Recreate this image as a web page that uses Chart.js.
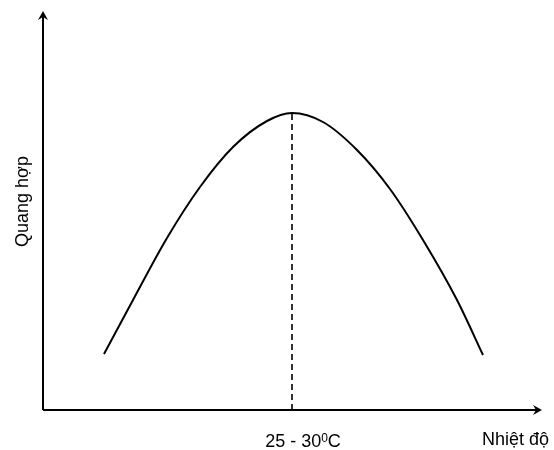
<!DOCTYPE html>
<html>
<head>
<meta charset="utf-8">
<script src="https://cdn.jsdelivr.net/npm/chart.js@4/dist/chart.umd.min.js"></script>
<style>
html,body{margin:0;padding:0;background:#fff;}
#c{display:block;}
</style>
</head>
<body>
<canvas id="c" width="554" height="450"></canvas>
<script>
// Read-off values (arbitrary units)
const temperature = [61, 90, 124, 157, 190, 224, 249, 280, 314, 347, 380, 414, 440];
const photosynthesis = [56, 110, 172, 223, 263, 289, 297, 288, 260, 221, 170, 110, 55];
const optimumX = [249, 249];
const optimumY = [0, 297];
const xLabel = "Nhiệt độ";
const yLabel = "Quang hợp";
const optimumLabel = ["25 - 30", "0", "C"];

const curve = temperature.map((t, i) => ({x: t, y: photosynthesis[i]}));
const dashed = optimumX.map((t, i) => ({x: t, y: optimumY[i]}));

const FONT = '"Liberation Sans", Arial, sans-serif';

const axesPlugin = {
  id: 'axesArrows',
  afterDraw(chart) {
    const ctx = chart.ctx;
    const a = chart.chartArea;
    const xs = chart.scales.x;
    ctx.save();
    ctx.strokeStyle = '#000';
    ctx.fillStyle = '#000';
    ctx.lineWidth = 2;
    ctx.beginPath();
    ctx.moveTo(a.left, a.bottom);
    ctx.lineTo(a.left, a.top + 4);
    ctx.stroke();
    ctx.beginPath();
    ctx.moveTo(a.left, a.bottom);
    ctx.lineTo(a.right - 4, a.bottom);
    ctx.stroke();
    function arrowUp(x, y) {
      ctx.beginPath();
      ctx.moveTo(x, y);
      ctx.lineTo(x + 5, y + 9);
      ctx.lineTo(x, y + 6);
      ctx.lineTo(x - 5, y + 9);
      ctx.closePath();
      ctx.fill();
    }
    function arrowRight(x, y) {
      ctx.beginPath();
      ctx.moveTo(x, y);
      ctx.lineTo(x - 9, y - 5);
      ctx.lineTo(x - 6, y);
      ctx.lineTo(x - 9, y + 5);
      ctx.closePath();
      ctx.fill();
    }
    arrowUp(a.left, a.top);
    arrowRight(a.right, a.bottom);

    ctx.font = '18px ' + FONT;
    ctx.textBaseline = 'alphabetic';
    ctx.textAlign = 'left';
    ctx.fillText(xLabel, a.right - 60, a.bottom + 35);
    ctx.save();
    ctx.translate(28, (a.top + a.bottom) / 2 - 9);
    ctx.rotate(-Math.PI / 2);
    ctx.textAlign = 'center';
    ctx.fillText(yLabel, 0, 0);
    ctx.restore();
    const px = xs.getPixelForValue(optimumX[0]);
    ctx.font = '18px ' + FONT;
    const w1 = ctx.measureText(optimumLabel[0]).width;
    ctx.font = '12px ' + FONT;
    const w2 = ctx.measureText(optimumLabel[1]).width;
    ctx.font = '18px ' + FONT;
    const w3 = ctx.measureText(optimumLabel[2]).width;
    const total = w1 + w2 + w3;
    let sx = px + 11 - total / 2;
    const by = a.bottom + 37;
    ctx.textAlign = 'left';
    ctx.fillText(optimumLabel[0], sx, by);
    sx += w1;
    ctx.font = '12px ' + FONT;
    ctx.fillText(optimumLabel[1], sx, by - 5);
    sx += w2;
    ctx.font = '18px ' + FONT;
    ctx.fillText(optimumLabel[2], sx, by);
    ctx.restore();
  }
};

new Chart(document.getElementById('c'), {
  type: 'scatter',
  data: {
    datasets: [
      {
        data: curve,
        showLine: true,
        borderColor: '#000',
        borderWidth: 2,
        pointRadius: 0,
        cubicInterpolationMode: 'monotone',
        fill: false
      },
      {
        data: dashed,
        showLine: true,
        borderColor: '#000',
        borderWidth: 1.6,
        borderDash: [6, 4],
        pointRadius: 0,
        fill: false
      }
    ]
  },
  options: {
    responsive: false,
    animation: false,
    layout: {padding: {left: 43, right: 12, top: 11, bottom: 40}},
    plugins: {legend: {display: false}, tooltip: {enabled: false}},
    scales: {
      x: {type: 'linear', min: 0, max: 499, display: false},
      y: {type: 'linear', min: 0, max: 399, display: false}
    }
  },
  plugins: [axesPlugin]
});
</script>
</body>
</html>
